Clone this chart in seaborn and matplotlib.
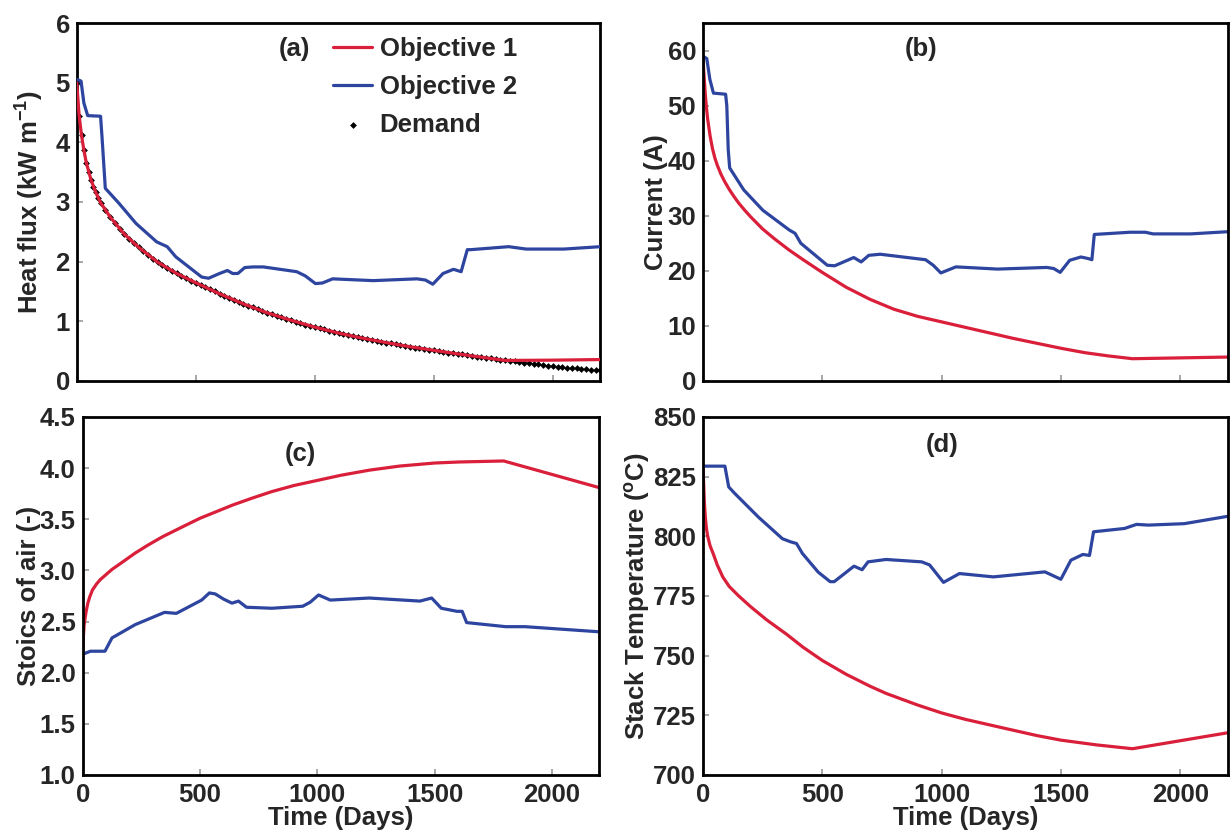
import numpy as np
import pandas as pd
import matplotlib
matplotlib.use("Agg")
import matplotlib.pyplot as plt
import seaborn as sns

# ---------------- data ----------------
RED = "#D91F3A"
BLUE = "#2E45A0"

# (a) heat flux
demand_days = [0, 10, 20, 30, 40, 50, 60, 70, 80, 90, 100, 120, 140, 160, 180, 200, 220, 240, 260, 280,
               300, 320, 340, 360, 380, 400, 420, 440, 460, 480, 500, 520, 540, 560, 580, 600, 620, 640,
               660, 680, 700, 720, 740, 760, 780, 800, 820, 840, 860, 880, 900, 920, 940, 960, 980, 1000,
               1020, 1040, 1060, 1080, 1100, 1120, 1140, 1160, 1180, 1200, 1220, 1240, 1260, 1280, 1300,
               1320, 1340, 1360, 1380, 1400, 1420, 1440, 1460, 1480, 1500, 1520, 1540, 1560, 1580, 1600,
               1620, 1640, 1660, 1680, 1700, 1720, 1740, 1760, 1780, 1800, 1820, 1840, 1860, 1880, 1900,
               1920, 1940, 1960, 1980, 2000, 2020, 2040, 2060, 2080, 2100, 2120, 2140, 2160, 2180, 2200]
demand_vals = [5.00, 4.45, 4.12, 3.87, 3.66, 3.50, 3.37, 3.26, 3.16, 3.07, 2.99, 2.86, 2.75, 2.65, 2.55,
               2.46, 2.38, 2.31, 2.24, 2.17, 2.11, 2.05, 1.99, 1.94, 1.89, 1.84, 1.80, 1.76, 1.72, 1.68,
               1.645, 1.61, 1.57, 1.535, 1.50, 1.46, 1.425, 1.39, 1.355, 1.32, 1.29, 1.26, 1.23, 1.20,
               1.17, 1.14, 1.115, 1.09, 1.065, 1.04, 1.015, 0.99, 0.965, 0.94, 0.92, 0.90, 0.88, 0.86,
               0.84, 0.82, 0.80, 0.78, 0.765, 0.75, 0.73, 0.715, 0.70, 0.685, 0.67, 0.655, 0.64, 0.625,
               0.61, 0.595, 0.58, 0.57, 0.555, 0.545, 0.53, 0.52, 0.51, 0.495, 0.485, 0.47, 0.46, 0.45,
               0.44, 0.43, 0.42, 0.405, 0.395, 0.385, 0.375, 0.365, 0.355, 0.345, 0.335, 0.325, 0.315,
               0.305, 0.295, 0.285, 0.275, 0.265, 0.255, 0.245, 0.237, 0.229, 0.221, 0.213, 0.205, 0.199,
               0.193, 0.187, 0.181, 0.175]

a_obj1_days = [0, 10, 20, 30, 40, 60, 80, 100, 140, 200, 260, 340, 420, 500, 600, 700, 800, 900, 1000,
               1100, 1200, 1300, 1400, 1500, 1600, 1700, 1800, 2000, 2200]
a_obj1_vals = [5.00, 4.45, 4.12, 3.87, 3.66, 3.37, 3.16, 2.99, 2.75, 2.46, 2.24, 1.99, 1.80, 1.645, 1.46,
               1.29, 1.14, 1.015, 0.90, 0.80, 0.715, 0.64, 0.57, 0.51, 0.45, 0.395, 0.34, 0.345, 0.355]

a_obj2_days = [0, 18, 30, 46, 100, 106, 120, 177, 249, 336, 380, 416, 525, 554, 600, 633, 655, 677, 706,
               742, 784, 924, 960, 1003, 1032, 1075, 1246, 1429, 1465, 1496, 1539, 1583, 1615, 1641, 1656,
               1815, 1888, 2047, 2200]
a_obj2_vals = [5.06, 5.03, 4.66, 4.45, 4.44, 4.10, 3.23, 2.98, 2.64, 2.33, 2.25, 2.08, 1.74, 1.72, 1.80,
               1.85, 1.80, 1.80, 1.90, 1.91, 1.91, 1.83, 1.76, 1.63, 1.64, 1.71, 1.68, 1.71, 1.69, 1.62,
               1.80, 1.87, 1.83, 2.20, 2.20, 2.25, 2.21, 2.21, 2.25]

# (b) current
b_obj1_days = [0, 3, 6, 10, 15, 20, 30, 40, 50, 60, 75, 90, 110, 130, 150, 175, 200, 250, 300, 360,
               420, 500, 600, 700, 800, 900, 1000, 1100, 1200, 1300, 1400, 1500, 1600, 1700, 1800, 2000,
               2200]
b_obj1_vals = [58.8, 56.5, 54.5, 52.0, 49.5, 47.5, 44.5, 42.2, 40.5, 39.2, 37.6, 36.3, 34.8, 33.5, 32.3,
               31.0, 29.8, 27.6, 25.8, 23.8, 22.0, 19.7, 17.0, 14.8, 13.0, 11.7, 10.7, 9.7, 8.7, 7.7,
               6.8, 5.9, 5.1, 4.5, 4.0, 4.15, 4.3]

b_obj2_days = [0, 16, 29, 44, 95, 100, 106, 112, 171, 251, 362, 386, 410, 521, 552, 600, 632, 663, 695,
               743, 933, 965, 997, 1060, 1235, 1441, 1470, 1497, 1537, 1584, 1616, 1630, 1640, 1790, 1854,
               1886, 2044, 2200]
b_obj2_vals = [59.0, 58.6, 54.8, 52.3, 52.1, 50.0, 42.0, 38.7, 34.7, 31.0, 27.4, 26.8, 25.0, 21.0, 20.9,
               21.8, 22.4, 21.6, 22.8, 23.0, 22.0, 21.0, 19.6, 20.7, 20.3, 20.6, 20.4, 19.7, 21.9, 22.5,
               22.2, 22.0, 26.6, 27.0, 27.0, 26.7, 26.7, 27.1]

# (c) stoics of air
c_obj1_days = [0, 3, 6, 10, 15, 22, 30, 42, 60, 75, 100, 125, 175, 224, 280, 341, 420, 500, 570, 640,
               720, 805, 900, 1000, 1100, 1221, 1350, 1500, 1603, 1794, 2200]
c_obj1_vals = [2.19, 2.35, 2.46, 2.53, 2.60, 2.68, 2.74, 2.81, 2.87, 2.91, 2.96, 3.01, 3.09, 3.17, 3.25,
               3.33, 3.42, 3.51, 3.575, 3.64, 3.705, 3.77, 3.83, 3.88, 3.93, 3.98, 4.02, 4.05, 4.06,
               4.07, 3.81]

c_obj2_days = [0, 33, 95, 125, 224, 349, 399, 507, 540, 565, 600, 636, 664, 698, 806, 938, 970, 1005,
               1055, 1221, 1437, 1487, 1528, 1595, 1617, 1636, 1802, 1885, 2200]
c_obj2_vals = [2.18, 2.21, 2.21, 2.34, 2.47, 2.59, 2.58, 2.71, 2.78, 2.77, 2.72, 2.68, 2.70, 2.64, 2.63,
               2.65, 2.69, 2.76, 2.71, 2.73, 2.70, 2.73, 2.63, 2.60, 2.60, 2.49, 2.45, 2.45, 2.40]

# (d) stack temperature
d_obj1_days = [0, 3, 6, 10, 15, 20, 30, 42, 60, 83, 110, 150, 200, 267, 350, 420, 500, 600, 700, 767,
               900, 1000, 1100, 1267, 1400, 1500, 1650, 1800, 2200]
d_obj1_vals = [829, 822, 814, 808, 803, 800, 796, 793, 788, 783, 779, 775, 770.5, 765, 759, 753.5, 748,
               742.2, 737.2, 734.2, 729.3, 726, 723.3, 719.5, 716.5, 714.6, 712.6, 711, 717.7]

d_obj2_days = [0, 92, 108, 133, 233, 333, 367, 392, 417, 483, 533, 550, 633, 667, 692, 767, 917, 950,
               1008, 1075, 1217, 1433, 1500, 1542, 1592, 1620, 1637, 1767, 1817, 1867, 2017, 2200]
d_obj2_vals = [829.4, 829.4, 820.7, 818, 808, 799, 797.7, 797, 792.8, 785, 781, 781, 787.5, 786, 789.3,
               790.3, 789.3, 788, 780.7, 784.4, 783, 785.1, 782, 790, 792.4, 792, 801.9, 803.3, 805,
               804.7, 805.3, 808.4]

x_ticks = [0, 500, 1000, 1500, 2000]

# ---------------- style ----------------
sns.set_theme(style="white")
plt.rcParams["font.family"] = ["Liberation Sans", "DejaVu Sans"]
plt.rcParams["font.weight"] = "bold"
plt.rcParams["axes.labelweight"] = "bold"
plt.rcParams["mathtext.fontset"] = "custom"
plt.rcParams["mathtext.rm"] = "Liberation Sans:bold"
plt.rcParams["mathtext.bf"] = "Liberation Sans:bold"
plt.rcParams["mathtext.default"] = "bf"

FS = 18.5
fig = plt.figure(figsize=(12.3, 8.38), dpi=100)

positions = {
    "a": [0.0624, 0.5457, 0.4257, 0.4265],
    "b": [0.5715, 0.5457, 0.4268, 0.4265],
    "c": [0.0672, 0.0752, 0.4198, 0.4272],
    "d": [0.5715, 0.0752, 0.4268, 0.4272],
}


def style_ax(ax, ylim, yticks, ylabel, ylab_x, bottom, letter, lx, ly, yfmt=None):
    ax.set_xlim(0, 2200)
    ax.set_ylim(*ylim)
    ax.set_xticks(x_ticks)
    ax.set_yticks(yticks)
    if yfmt:
        ax.set_yticklabels([yfmt.format(v) for v in yticks])
    for s in ax.spines.values():
        s.set_color("black")
        s.set_linewidth(2.0)
        s.set_visible(True)
    ax.tick_params(axis="both", which="both", direction="in", length=4, width=1.2,
                   color="#999999", labelsize=FS, pad=5, top=False, right=False,
                   bottom=True, left=True)
    ax.tick_params(axis="x", pad=6)
    for lab in ax.get_xticklabels() + ax.get_yticklabels():
        lab.set_fontweight("bold")
    ax.set_ylabel(ylabel, fontsize=FS, fontweight="bold")
    ax.yaxis.set_label_coords(ylab_x, 0.5)
    if bottom:
        ax.set_xlabel("Time (Days)", fontsize=FS, fontweight="bold")
        ax.xaxis.set_label_coords(0.5, -0.088)
    else:
        ax.set_xlabel("")
        ax.set_xticklabels([])
    ax.text(lx, ly, letter, transform=ax.transAxes, ha="center", va="center",
            fontsize=FS, fontweight="bold")


# (a)
axa = fig.add_axes(positions["a"])
sns.scatterplot(x=demand_days, y=demand_vals, ax=axa, marker="D", s=12, color="black",
                linewidth=0, label="Demand", zorder=2)
sns.lineplot(x=a_obj1_days, y=a_obj1_vals, ax=axa, color=RED, lw=2.3, label="Objective 1",
             estimator=None, sort=False, zorder=3)
sns.lineplot(x=a_obj2_days, y=a_obj2_vals, ax=axa, color=BLUE, lw=2.3, label="Objective 2",
             estimator=None, sort=False, zorder=3)
style_ax(axa, (0, 6), [0, 1, 2, 3, 4, 5, 6], r"Heat flux (kW m$^{-1}$)", -0.058, False,
         "(a)", 0.415, 0.927)
h, l = axa.get_legend_handles_labels()
order = [l.index("Objective 1"), l.index("Objective 2"), l.index("Demand")]
axa.legend([h[i] for i in order], [l[i] for i in order], loc="upper left",
           bbox_to_anchor=(0.49, 0.962), frameon=False, handlelength=1.5,
           handletextpad=0.3, labelspacing=0.55, borderpad=0, borderaxespad=0,
           prop={"weight": "bold", "size": FS})

# (b)
axb = fig.add_axes(positions["b"])
sns.lineplot(x=b_obj1_days, y=b_obj1_vals, ax=axb, color=RED, lw=2.3, estimator=None, sort=False)
sns.lineplot(x=b_obj2_days, y=b_obj2_vals, ax=axb, color=BLUE, lw=2.3, estimator=None, sort=False)
style_ax(axb, (0, 65), [0, 10, 20, 30, 40, 50, 60], "Current (A)", -0.066, False,
         "(b)", 0.415, 0.927)

# (c)
axc = fig.add_axes(positions["c"])
sns.lineplot(x=c_obj1_days, y=c_obj1_vals, ax=axc, color=RED, lw=2.3, estimator=None, sort=False)
sns.lineplot(x=c_obj2_days, y=c_obj2_vals, ax=axc, color=BLUE, lw=2.3, estimator=None, sort=False)
style_ax(axc, (1.0, 4.5), [1.0, 1.5, 2.0, 2.5, 3.0, 3.5, 4.0, 4.5], "Stoics of air (-)", -0.081,
         True, "(c)", 0.422, 0.898, yfmt="{:.1f}")

# (d)
axd = fig.add_axes(positions["d"])
sns.lineplot(x=d_obj1_days, y=d_obj1_vals, ax=axd, color=RED, lw=2.3, estimator=None, sort=False)
sns.lineplot(x=d_obj2_days, y=d_obj2_vals, ax=axd, color=BLUE, lw=2.3, estimator=None, sort=False)
style_ax(axd, (700, 850), [700, 725, 750, 775, 800, 825, 850], r"Stack Temperature ($^{o}$C)",
         -0.097, True, "(d)", 0.455, 0.921)

for ax in (axb, axc, axd):
    if ax.get_legend() is not None:
        ax.get_legend().remove()

fig.savefig("out.png", dpi=100)
